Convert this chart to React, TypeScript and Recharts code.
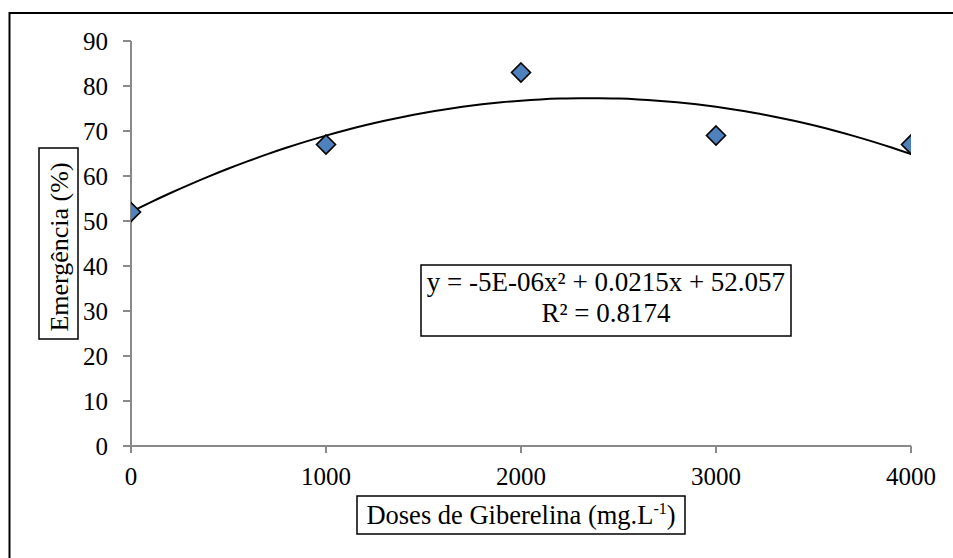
import React from 'react';
import { ComposedChart, XAxis, YAxis, Line, Scatter } from 'recharts';

const doses = [0, 1000, 2000, 3000, 4000];
const emergence = [52, 67, 83, 69, 67];
const xTicks = [0, 1000, 2000, 3000, 4000];
const yTicks = [0, 10, 20, 30, 40, 50, 60, 70, 80, 90];
const equationText = 'y = -5E-06x² + 0.0215x + 52.057';
const r2Text = 'R² = 0.8174';
const yTitle = 'Emergência (%)';
const xTitle = 'Doses de Giberelina (mg.L';

// least-squares quadratic fit (Excel polynomial trendline, order 2)
function fitQuadratic(xs: number[], ys: number[]) {
  const n = xs.length;
  let s1 = 0, s2 = 0, s3 = 0, s4 = 0, t0 = 0, t1 = 0, t2 = 0;
  for (let i = 0; i < n; i++) {
    const x = xs[i], y = ys[i];
    s1 += x; s2 += x * x; s3 += x * x * x; s4 += x * x * x * x;
    t0 += y; t1 += x * y; t2 += x * x * y;
  }
  const M = [
    [n, s1, s2, t0],
    [s1, s2, s3, t1],
    [s2, s3, s4, t2],
  ];
  for (let c = 0; c < 3; c++) {
    for (let r = c + 1; r < 3; r++) {
      const f = M[r][c] / M[c][c];
      for (let k = c; k < 4; k++) M[r][k] -= f * M[c][k];
    }
  }
  const sol = [0, 0, 0];
  for (let r = 2; r >= 0; r--) {
    let s = M[r][3];
    for (let k = r + 1; k < 3; k++) s -= M[r][k] * sol[k];
    sol[r] = s / M[r][r];
  }
  return sol; // a0, a1, a2
}

const coef = fitQuadratic(doses, emergence);
const trend: { x: number; y: number }[] = [];
for (let x = doses[0]; x <= doses[doses.length - 1]; x += 100) {
  trend.push({ x, y: coef[0] + coef[1] * x + coef[2] * x * x });
}
const points = doses.map((x, i) => ({ x, y: emergence[i] }));

const FONT = '"Liberation Serif", "Times New Roman", serif';
const AXIS = '#898989';

const Diamond = (props: any) => {
  const { cx, cy } = props;
  if (cx == null || cy == null) return null;
  const h = 9.5;
  return (
    <polygon
      points={`${cx},${cy - h} ${cx + h},${cy} ${cx},${cy + h} ${cx - h},${cy}`}
      fill="#4F81BD"
      stroke="#000"
      strokeWidth={1.6}
    />
  );
};

export default function App() {
  return (
    <div style={{ position: 'fixed', left: 0, top: 0, width: 953, height: 558, background: '#fff' }}>
      <ComposedChart
        width={953}
        height={558}
        margin={{ top: 41, right: 42, bottom: 82, left: 0 }}
      >
        <XAxis
          type="number"
          dataKey="x"
          domain={[0, 4000]}
          ticks={xTicks}
          height={30}
          allowDataOverflow
          stroke={AXIS}
          strokeWidth={2}
          tickSize={7}
          tickMargin={14}
          tick={{ fill: '#000', fontSize: 25, fontFamily: FONT }}
          tickLine={{ stroke: AXIS, strokeWidth: 2 }}
        />
        <YAxis
          type="number"
          domain={[0, 90]}
          ticks={yTicks}
          width={131}
          stroke={AXIS}
          strokeWidth={2}
          tickSize={8}
          tickMargin={15}
          tick={{ fill: '#000', fontSize: 25, fontFamily: FONT }}
          tickLine={{ stroke: AXIS, strokeWidth: 2 }}
        />
        <Line
          data={trend}
          dataKey="y"
          type="monotone"
          stroke="#000"
          strokeWidth={2}
          dot={false}
          activeDot={false}
          isAnimationActive={false}
        />
        <Scatter data={points} dataKey="y" shape={Diamond} isAnimationActive={false} />
      </ComposedChart>
      <svg
        width={953}
        height={558}
        style={{ position: 'absolute', left: 0, top: 0, pointerEvents: 'none' }}
      >
        <rect x={9.5} y={13} width={960} height={560} fill="none" stroke="#000" strokeWidth={2} />
        <g>
          <rect x={39} y={148} width={39} height={191} fill="#fff" stroke="#000" strokeWidth={1.5} />
          <text
            x={0}
            y={0}
            transform="translate(68,247) rotate(-90)"
            textAnchor="middle"
            fontFamily={FONT}
            fontSize={26}
            fill="#000"
          >
            {yTitle}
          </text>
        </g>
        <g>
          <rect x={357} y={496} width={328} height={38} fill="#fff" stroke="#000" strokeWidth={1.5} />
          <text x={521} y={524} textAnchor="middle" fontFamily={FONT} fontSize={26.5} fill="#000">
            {xTitle}
            <tspan dy={-10} fontSize={16}>-1</tspan>
            <tspan dy={10}>)</tspan>
          </text>
        </g>
        <g>
          <rect x={421} y={265} width={370} height={71} fill="#fff" stroke="#000" strokeWidth={1.5} />
          <text x={606} y={291} textAnchor="middle" fontFamily={FONT} fontSize={27} fill="#000">
            {equationText}
          </text>
          <text x={606} y={322} textAnchor="middle" fontFamily={FONT} fontSize={27} fill="#000">
            {r2Text}
          </text>
        </g>
      </svg>
    </div>
  );
}
